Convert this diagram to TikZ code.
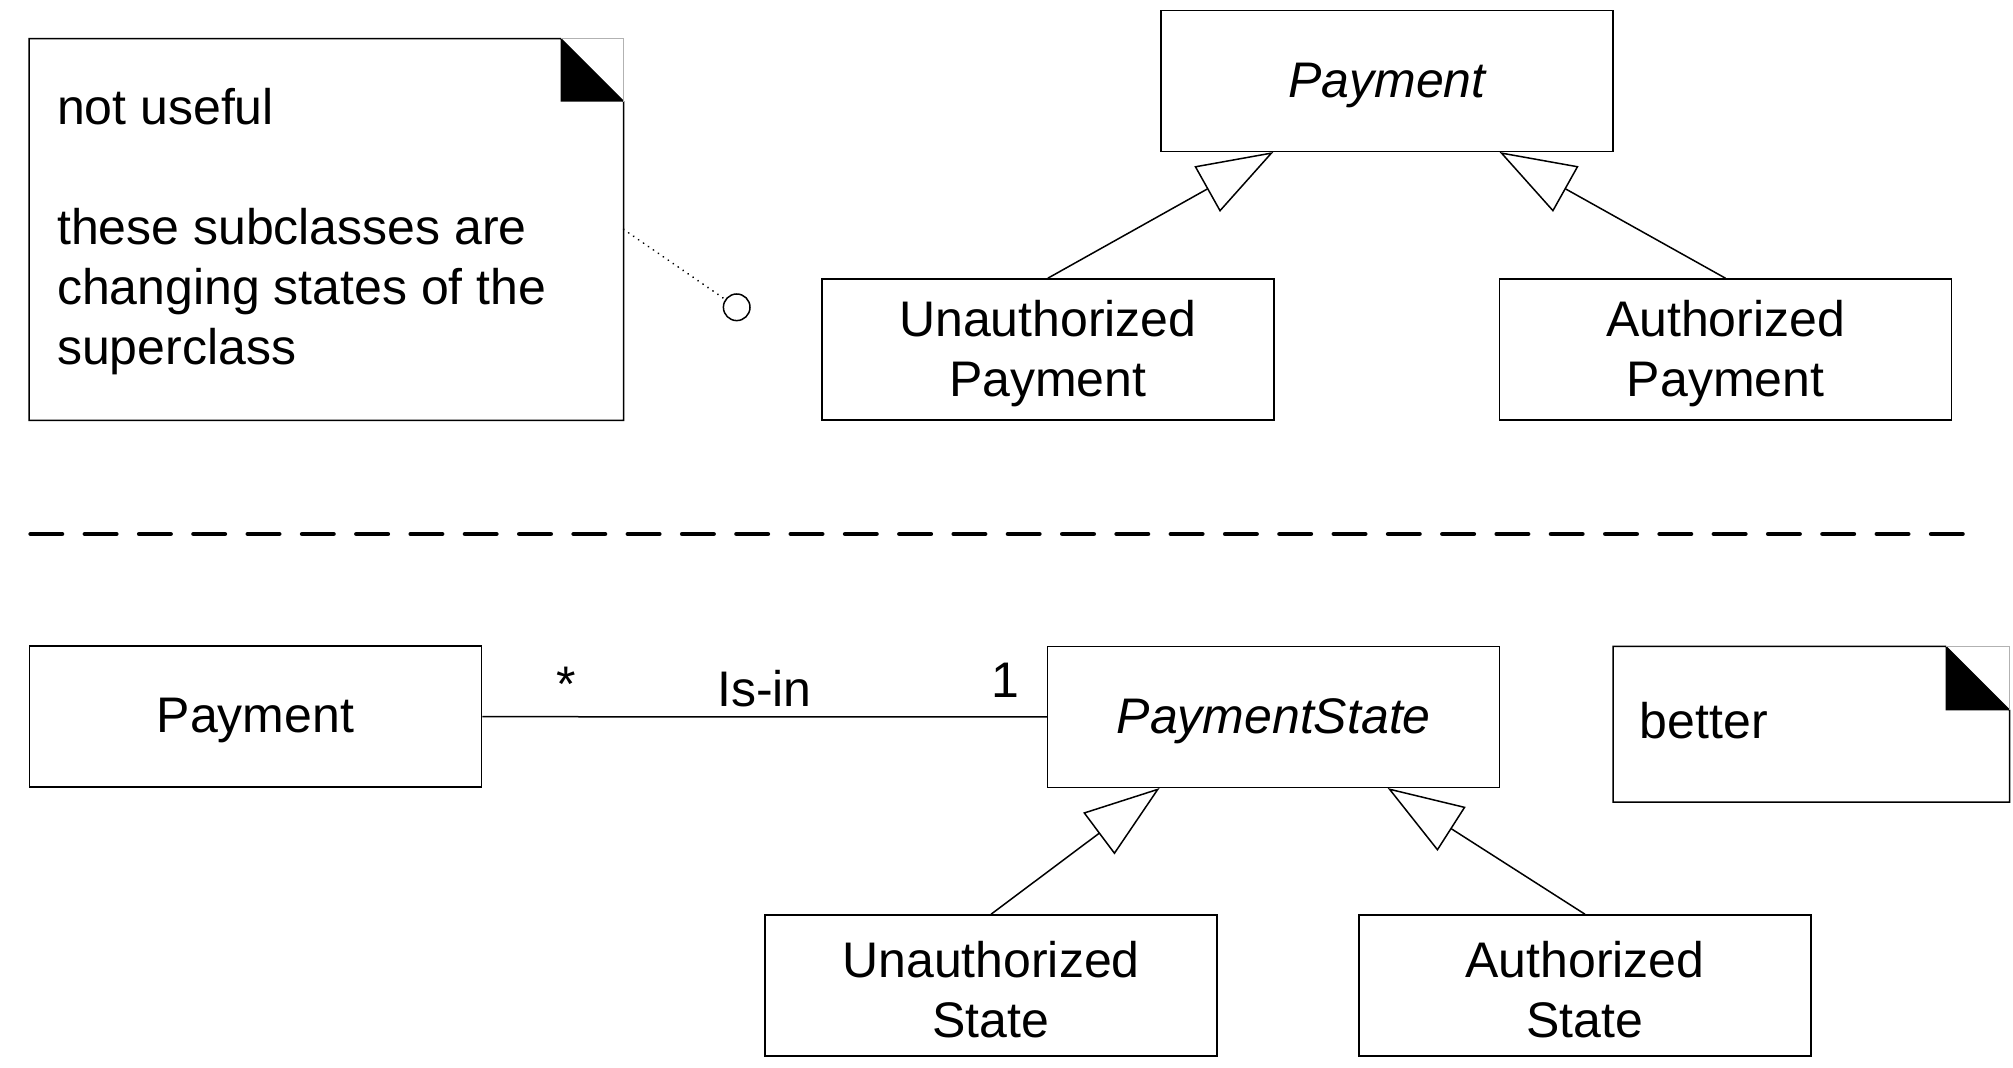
\documentclass[tikz,border=0pt]{standalone}
\usepackage{fontspec}
\setmainfont{Liberation Sans}
\usetikzlibrary{arrows.meta,calc}
\newcommand\clsone{\rule{0pt}{21.3pt}}
\newcommand\clstwo{\rule{0pt}{22.2pt}}
\begin{document}
\begin{tikzpicture}[x=0.5pt,y=-0.5pt,
  cls/.style={draw, line width=0.75pt, minimum width=226pt, minimum height=70.5pt,
    inner sep=0pt, align=center, font=\fontsize{25}{29.6}\selectfont},
  gen/.style={line width=0.75pt, -{Triangle[open, length=38pt, width=26pt, fill=white]}},
  assoc/.style={line width=0.75pt},
  lbl/.style={font=\fontsize{25}{30}\selectfont, inner sep=0pt},
  noteframe/.style={draw, line width=0.75pt, fill=white},
  fold/.style={fill=black},
  foldedge/.style={draw=black!30, line width=0.4pt},
  dotline/.style={line width=1pt, line cap=round, dash pattern=on 0.01pt off 3pt},
  sep/.style={line width=2.35pt, line cap=round, dash pattern=on 15.65pt off 11.5pt}]
\useasboundingbox (0,0) rectangle (2013,1068);

% ---------- upper part ----------
\node[minimum width=296.85pt, minimum height=190.5pt, inner sep=0pt] (note1) at (326.45,229.5) {};
\draw[noteframe] (note1.north west) -- ($(note1.north east)+(-63,0)$) -- ($(note1.north east)+(0,63)$)
  -- (note1.south east) -- (note1.south west) -- cycle;
\fill[fold] ($(note1.north east)+(-63,0)$) -- ($(note1.north east)+(-63,63)$) -- ($(note1.north east)+(0,63)$) -- cycle;
\draw[foldedge] ($(note1.north east)+(-63,0)$) -- (note1.north east) -- ($(note1.north east)+(0,63)$);
\node[lbl, anchor=north west, align=left] (note1txt) at (56.7,88)
  {not useful\\[30pt]these subclasses are\\changing states of the\\superclass};

\node[circle, draw, line width=0.75pt, minimum size=13.3pt, inner sep=0pt] (circ) at (736.7,307.3) {};
\draw[dotline] (note1.east) -- (circ);

\node[cls, font=\fontsize{25}{29.6}\itshape] (P1) at (1387,81) {\clsone Payment};
\node[cls] (UP) at (1047.8,349.5) {\clstwo Unauthorized\\Payment};
\node[cls] (AP) at (1725.5,349.5) {\clstwo Authorized\\Payment};

\coordinate (t1) at (1273.4,152);
\coordinate (t2) at (1499.5,152);
\draw[gen] (UP.north) -- (t1);
\draw[gen] (AP.north) -- (t2);

% ---------- separator ----------
\draw[sep] (30.65,534) -- (1962.5,534);

% ---------- lower part ----------
\node[cls] (P2) at (255.5,716.7) {\clsone Payment};
\node[cls, font=\fontsize{25}{29.6}\itshape] (PS) at (1273.7,717) {\clsone PaymentState};
\node[cls] (US) at (991,985.5) {\clstwo Unauthorized\\State};
\node[cls] (AS) at (1585,985.5) {\clstwo Authorized\\State};

\draw[assoc] (P2.east) -- (PS.west);
\node[lbl, anchor=base] (mstar) at (566.5,702) {*};
\node[lbl, anchor=base] (isin) at (764.5,706.7) {Is-in};
\node[lbl, anchor=base] (mone) at (1005,697.3) {1};

\coordinate (t3) at (1159.6,788);
\coordinate (t4) at (1387.6,788);
\draw[gen] (US.north) -- (t3);
\draw[gen] (AS.north) -- (t4);

\node[minimum width=197.9pt, minimum height=77.5pt, inner sep=0pt] (note2) at (1811.4,724.2) {};
\draw[noteframe] (note2.north west) -- ($(note2.north east)+(-64,0)$) -- ($(note2.north east)+(0,64)$)
  -- (note2.south east) -- (note2.south west) -- cycle;
\fill[fold] ($(note2.north east)+(-64,0)$) -- ($(note2.north east)+(-64,64)$) -- ($(note2.north east)+(0,64)$) -- cycle;
\draw[foldedge] ($(note2.north east)+(-64,0)$) -- (note2.north east) -- ($(note2.north east)+(0,64)$);
\node[lbl, anchor=base west] (note2txt) at (1639.5,738.3) {better};
\end{tikzpicture}
\end{document}
